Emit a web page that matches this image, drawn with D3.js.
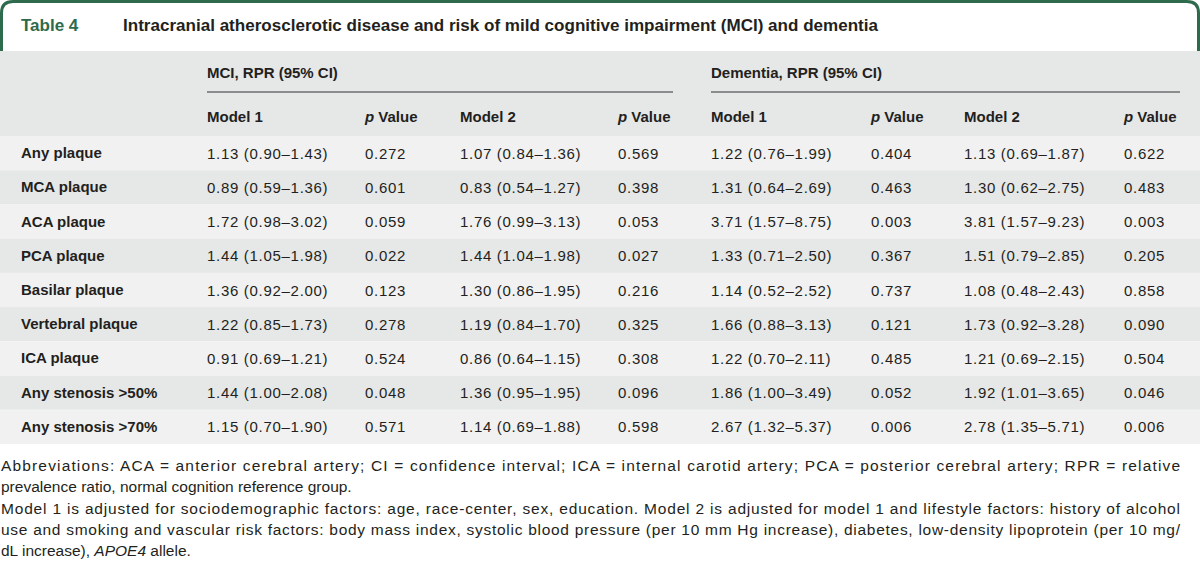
<!DOCTYPE html>
<html>
<head>
<meta charset="utf-8">
<script src="https://cdn.jsdelivr.net/npm/d3@7"></script>
<style>
  html, body { margin: 0; padding: 0; background: #ffffff; }
  svg { display: block; }
</style>
</head>
<body>
<div id="chart"></div>
<script>
// ---- data ----
const tableNumber = "Table 4";
const tableTitle = "Intracranial atherosclerotic disease and risk of mild cognitive impairment (MCI) and dementia";
const groupLabels = ["MCI, RPR (95% CI)", "Dementia, RPR (95% CI)"];
const columnLabels = ["Model 1", "p Value", "Model 2", "p Value", "Model 1", "p Value", "Model 2", "p Value"];
const rowLabels = ["Any plaque", "MCA plaque", "ACA plaque", "PCA plaque", "Basilar plaque",
  "Vertebral plaque", "ICA plaque", "Any stenosis >50%", "Any stenosis >70%"];
const mciModel1 = ["1.13 (0.90–1.43)", "0.89 (0.59–1.36)", "1.72 (0.98–3.02)", "1.44 (1.05–1.98)", "1.36 (0.92–2.00)",
  "1.22 (0.85–1.73)", "0.91 (0.69–1.21)", "1.44 (1.00–2.08)", "1.15 (0.70–1.90)"];
const mciP1 = ["0.272", "0.601", "0.059", "0.022", "0.123", "0.278", "0.524", "0.048", "0.571"];
const mciModel2 = ["1.07 (0.84–1.36)", "0.83 (0.54–1.27)", "1.76 (0.99–3.13)", "1.44 (1.04–1.98)", "1.30 (0.86–1.95)",
  "1.19 (0.84–1.70)", "0.86 (0.64–1.15)", "1.36 (0.95–1.95)", "1.14 (0.69–1.88)"];
const mciP2 = ["0.569", "0.398", "0.053", "0.027", "0.216", "0.325", "0.308", "0.096", "0.598"];
const demModel1 = ["1.22 (0.76–1.99)", "1.31 (0.64–2.69)", "3.71 (1.57–8.75)", "1.33 (0.71–2.50)", "1.14 (0.52–2.52)",
  "1.66 (0.88–3.13)", "1.22 (0.70–2.11)", "1.86 (1.00–3.49)", "2.67 (1.32–5.37)"];
const demP1 = ["0.404", "0.463", "0.003", "0.367", "0.737", "0.121", "0.485", "0.052", "0.006"];
const demModel2 = ["1.13 (0.69–1.87)", "1.30 (0.62–2.75)", "3.81 (1.57–9.23)", "1.51 (0.79–2.85)", "1.08 (0.48–2.43)",
  "1.73 (0.92–3.28)", "1.21 (0.69–2.15)", "1.92 (1.01–3.65)", "2.78 (1.35–5.71)"];
const demP2 = ["0.622", "0.483", "0.003", "0.205", "0.858", "0.090", "0.504", "0.046", "0.006"];
const footnoteLines = [
  {text: "Abbreviations: ACA = anterior cerebral artery; CI = confidence interval; ICA = internal carotid artery; PCA = posterior cerebral artery; RPR = relative", justify: true},
  {text: "prevalence ratio, normal cognition reference group.", justify: false},
  {text: "Model 1 is adjusted for sociodemographic factors: age, race-center, sex, education. Model 2 is adjusted for model 1 and lifestyle factors: history of alcohol", justify: true},
  {text: "use and smoking and vascular risk factors: body mass index, systolic blood pressure (per 10 mm Hg increase), diabetes, low-density lipoprotein (per 10 mg/", justify: true},
  {text: "dL increase), APOE4 allele.", justify: false}
];

// ---- layout ----
const W = 1200, H = 571;
const green = "#2e6b4c";
const ink = "#231f20";
const colX = [207, 365, 460, 618, 711, 871, 964, 1124];
const groupSpans = [[207, 673], [711, 1180]];
const columns = [mciModel1, mciP1, mciModel2, mciP2, demModel1, demP1, demModel2, demP2];
const font = "Liberation Sans, Arial, sans-serif";

const svg = d3.select("#chart").append("svg").attr("width", W).attr("height", H);

// title box
svg.append("rect").attr("x", 0).attr("y", 0).attr("width", W).attr("height", 52).attr("fill", "#ffffff");
svg.append("path")
  .attr("d", `M1.5,51 L1.5,13 Q1.5,1.5 13,1.5 L1187,1.5 Q1198.5,1.5 1198.5,13 L1198.5,51`)
  .attr("fill", "none").attr("stroke", green).attr("stroke-width", 3);

svg.append("text").attr("x", 21).attr("y", 31)
  .attr("font-family", font).attr("font-weight", "bold")
  .attr("font-size", 17).attr("fill", green).text(tableNumber);
svg.append("text").attr("x", 123).attr("y", 31)
  .attr("font-family", font).attr("font-weight", "bold")
  .attr("font-size", 16.5).attr("fill", ink)
  .attr("textLength", 755).attr("lengthAdjust", "spacingAndGlyphs")
  .text(tableTitle);

// header band
const headTop = 51, bodyTop = 136, bodyBottom = 444;
svg.append("rect").attr("x", 0).attr("y", headTop).attr("width", W).attr("height", bodyTop - headTop).attr("fill", "#e6e7e7");

const y = d3.scaleBand().domain(rowLabels).range([bodyTop, bodyBottom]).padding(0);

svg.selectAll("rect.row").data(rowLabels).join("rect")
  .attr("class", "row")
  .attr("x", 0).attr("y", d => y(d)).attr("width", W).attr("height", y.bandwidth())
  .attr("fill", (d, i) => i % 2 === 0 ? "#f1f1f1" : "#e6e7e7");

// group labels + rules
groupLabels.forEach((g, i) => {
  svg.append("text").attr("x", groupSpans[i][0]).attr("y", 78)
    .attr("font-family", font).attr("font-weight", "bold").attr("font-size", 15)
    .attr("fill", ink).text(g);
  svg.append("line").attr("x1", groupSpans[i][0]).attr("x2", groupSpans[i][1])
    .attr("y1", 92).attr("y2", 92).attr("stroke", "#6d6e70").attr("stroke-width", 1.3);
});

// column labels
columnLabels.forEach((c, i) => {
  const t = svg.append("text").attr("x", colX[i]).attr("y", 122)
    .attr("font-family", font).attr("font-weight", "bold").attr("font-size", 15).attr("fill", ink);
  if (c.startsWith("p ")) {
    t.append("tspan").attr("font-style", "italic").text("p");
    t.append("tspan").text(" Value");
  } else {
    t.text(c);
  }
});

// row labels
svg.selectAll("text.rowlab").data(rowLabels).join("text")
  .attr("class", "rowlab")
  .attr("x", 21).attr("y", d => y(d) + y.bandwidth() / 2 + 5)
  .attr("font-family", font).attr("font-weight", "bold").attr("font-size", 15)
  .attr("fill", ink).text(d => d);

// cells
columns.forEach((col, ci) => {
  svg.selectAll(null).data(col).join("text")
    .attr("x", colX[ci]).attr("y", (d, i) => y(rowLabels[i]) + y.bandwidth() / 2 + 5.5)
    .attr("font-family", font).attr("font-size", 15)
    .attr("letter-spacing", 0.7)
    .attr("fill", ink).text(d => d);
});

// footnotes
const fy = d3.scalePoint().domain(d3.range(footnoteLines.length)).range([471, 556]);
footnoteLines.forEach((f, i) => {
  const t = svg.append("text").attr("x", 1).attr("y", fy(i))
    .attr("font-family", font).attr("font-size", 15.5).attr("fill", ink);
  if (f.justify) t.attr("textLength", 1179).attr("lengthAdjust", "spacing");
  if (f.text.includes("APOE4")) {
    const parts = f.text.split("APOE4");
    t.append("tspan").text(parts[0]);
    t.append("tspan").attr("font-style", "italic").text("APOE4");
    t.append("tspan").text(parts[1]);
  } else {
    t.text(f.text);
  }
});
</script>
</body>
</html>
